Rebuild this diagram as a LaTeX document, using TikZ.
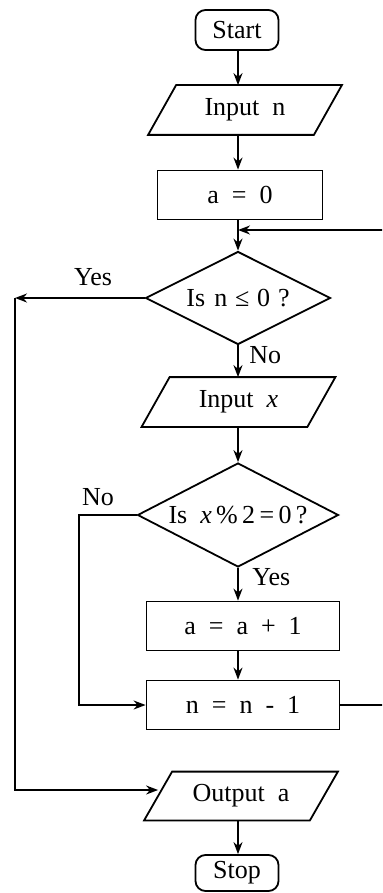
\documentclass[tikz,border=0pt]{standalone}
\usepackage{fontspec}
\setmainfont{Liberation Serif}
\usetikzlibrary{shapes.geometric,arrows.meta}

\tikzset{
    term/.style={draw, line width=0.9pt, rounded corners=5pt, minimum width=41.5pt, minimum height=20pt, inner sep=1pt},
    proc/.style={draw, line width=0.9pt, rectangle, minimum height=24.5pt, inner sep=1pt},
    io/.style={rectangle, minimum width=82.5pt, minimum height=24.5pt, inner sep=1pt},
    cond/.style={draw, line width=0.9pt, diamond, aspect=2, inner sep=0pt},
    flow/.style={line width=0.9pt, -{Stealth[length=6pt,width=4.5pt]}},
    lbl/.style={anchor=west, inner sep=0pt}
}

\begin{document}
\begin{tikzpicture}[x=0.5pt, y=-0.5pt, font=\fontsize{13}{15}\selectfont]
    \clip (0,0) rectangle (382,893);
    \coordinate (spine) at (238,0);
    \coordinate (merge) at (238,230);
    \coordinate (yesc) at (15,298);
    \coordinate (noc) at (79,515);
    \coordinate (loopc) at (395,705);
    \node[term] (start) at (237,30) {Start};
    \node[io] (inn) at (245,110) {Input\enspace n};
    \node[proc, minimum width=82.5pt] (init) at (240,195) {a\enspace=\enspace0};
    \node[cond, minimum width=92.5pt, minimum height=46.5pt] (dec1) at (238,298) {Is\hspace{0.35em}n\hspace{0.3em}≤\hspace{0.3em}0\hspace{0.3em}?};
    \node[io] (inx) at (238.5,402) {Input\enspace\textit{x}};
    \node[cond, minimum width=100.5pt, minimum height=52pt] (dec2) at (238,515) {Is\enspace\textit{x}\,\%\,2\,=\,0\,?};
    \node[proc, minimum width=96.5pt] (inc) at (243,626) {a\enspace=\enspace a\enspace+\enspace1};
    \node[proc, minimum width=96.5pt] (dec) at (243,705) {n\enspace=\enspace n\enspace-\enspace1};
    \node[io, minimum height=24pt] (outa) at (241,796) {Output\enspace a};
    \node[term, minimum height=18pt] (stop) at (237,873) {Stop};
    % slanted outlines of the input/output boxes
    \foreach \n in {inn,inx,outa}
        \draw[line width=0.9pt] ([xshift=7pt]\n.north west) -- ([xshift=7pt]\n.north east)
            -- ([xshift=-7pt]\n.south east) -- ([xshift=-7pt]\n.south west) -- cycle;
    \draw[flow] (spine |- start.south) -- (spine |- inn.north);
    \draw[flow] (spine |- inn.south) -- (spine |- init.north);
    \draw[flow] (spine |- init.south) -- (dec1.north);
    \draw[flow] (dec.east) -- (loopc) |- (merge);
    \draw[flow] (dec1.west) -- (yesc);
    \draw[flow] (yesc) |- ([yshift=3pt]outa.west);
    \draw[flow] (dec1.south) -- (spine |- inx.north);
    \draw[flow] (spine |- inx.south) -- (dec2.north);
    \draw[flow] (dec2.south) -- (spine |- inc.north);
    \draw[flow] (dec2.west) -- (noc) |- (dec.west);
    \draw[flow] (spine |- inc.south) -- (spine |- dec.north);
    \draw[flow] (spine |- outa.south) -- (spine |- stop.north);
    \node (yes1) at (93,277) {Yes};
    \node[lbl] (no1) at (249,355) {No};
    \node (no2) at (98,497) {No};
    \node[lbl] (yes2) at (252,577) {Yes};
\end{tikzpicture}
\end{document}
